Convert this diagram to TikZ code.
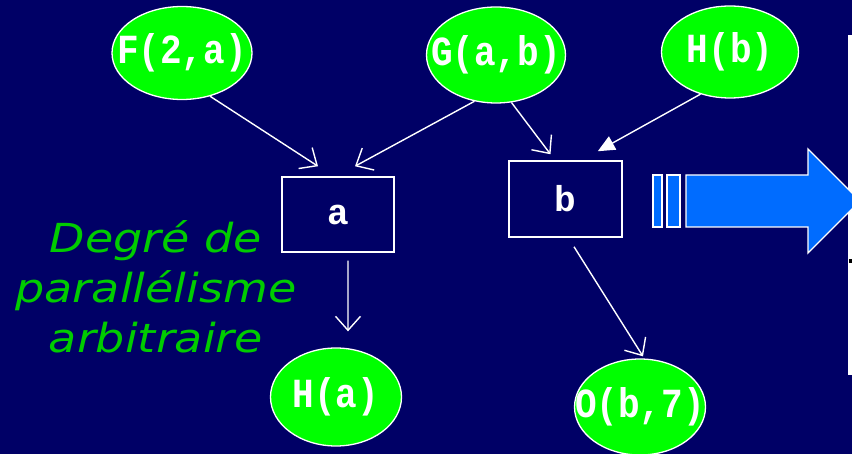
\documentclass[tikz,border=0pt]{standalone}
\usepackage{fontspec}
\usepackage{graphicx}
\usetikzlibrary{arrows.meta,shapes.geometric}
\newfontfamily\codefont{Liberation Mono}
\newfontfamily\notefont{DejaVu Sans}
\definecolor{navy}{RGB}{0,0,102}
\definecolor{leaf}{RGB}{0,255,0}
\definecolor{notegreen}{RGB}{0,204,0}
\definecolor{flowblue}{RGB}{0,108,255}
\tikzset{
  x=1bp, y=-1bp,
  term/.style={ellipse, draw=white, line width=1.3bp, fill=leaf, inner sep=0pt,
    text=white, font=\codefont\bfseries\fontsize{36bp}{36bp}\selectfont},
  varbox/.style={rectangle, draw=white, line width=1.5bp, inner sep=0pt,
    text=white, font=\codefont\bfseries\fontsize{36bp}{36bp}\selectfont},
  flow/.style={draw=white, line width=1.4bp, -{Straight Barb[length=14bp,width=25bp,line width=1.4bp]}},
  flowfill/.style={draw=white, line width=1.4bp, -{Triangle[length=17bp,width=15bp]}, fill=white},
  blockpart/.style={draw=white, line width=1.3bp, fill=flowblue},
}
% label text is allowed to run past the ellipse outline
\newcommand{\tallcode}[1]{\makebox[0pt]{\scalebox{1}[1.15]{#1}}}
\begin{document}
\begin{tikzpicture}
\useasboundingbox (0,0) rectangle (852,454);
\clip (0,0) rectangle (852,454);
\fill[navy] (0,0) rectangle (852,454);

% partly hidden white panel on the right
\fill[white] (848,35) rectangle (852,375);
\fill[black] (849,259) rectangle (852,263);

% terms
\node[term, minimum width=140bp, minimum height=93bp] (F) at (182,53) {\tallcode{F(2,a)}};
\node[term, minimum width=139bp, minimum height=96bp] (G) at (496,55) {\tallcode{G(a,b)}};
\node[term, minimum width=137bp, minimum height=92bp] (Hb) at (730,52) {\tallcode{H(b)}};
\node[term, minimum width=131bp, minimum height=98bp] (Ha) at (336,397) {\tallcode{H(a)}};
\node[term, minimum width=131bp, minimum height=96bp] (O) at (640,407) {\tallcode{O(b,7)}};

% variables
\node[varbox, minimum width=112bp, minimum height=75bp] (a) at (338,214.5) {a};
\node[varbox, minimum width=113bp, minimum height=76bp] (b) at (565.5,199) {b};

% dependencies
\draw[flow] (F.-57) -- ([xshift=-20bp,yshift=10bp]a.north);
\draw[flow] (G.245) -- ([xshift=17bp,yshift=10bp]a.north);
\draw[flow] (G.-72) -- ([xshift=-15bp,yshift=6bp]b.north);
\draw[flowfill] (Hb.235) -- ([xshift=-25bp,yshift=9bp]b.north east);
\draw[flow] ([xshift=10bp,yshift=-8bp]a.south) -- ([xshift=12bp,yshift=16bp]Ha.north);
\draw[flow] ([xshift=8.5bp,yshift=-9bp]b.south) -- ([xshift=3bp,yshift=2bp]O.north);

% note
\node[text=notegreen, align=center, inner sep=0pt,
      font=\notefont\itshape\fontsize{40bp}{50bp}\selectfont] (note) at (156,287)
  {\scalebox{1.15}[1]{Degré de}\\\scalebox{1.15}[1]{parallélisme}\\\scalebox{1.15}[1]{arbitraire}};

% block arrow
\draw[blockpart] (653,175) rectangle (662,227);
\draw[blockpart] (667,175) rectangle (680,227);
\draw[blockpart] (686,175) -- (808,175) -- (808,149) -- (860,201) -- (808,253) -- (808,227) -- (686,227) -- cycle;
\end{tikzpicture}
\end{document}
